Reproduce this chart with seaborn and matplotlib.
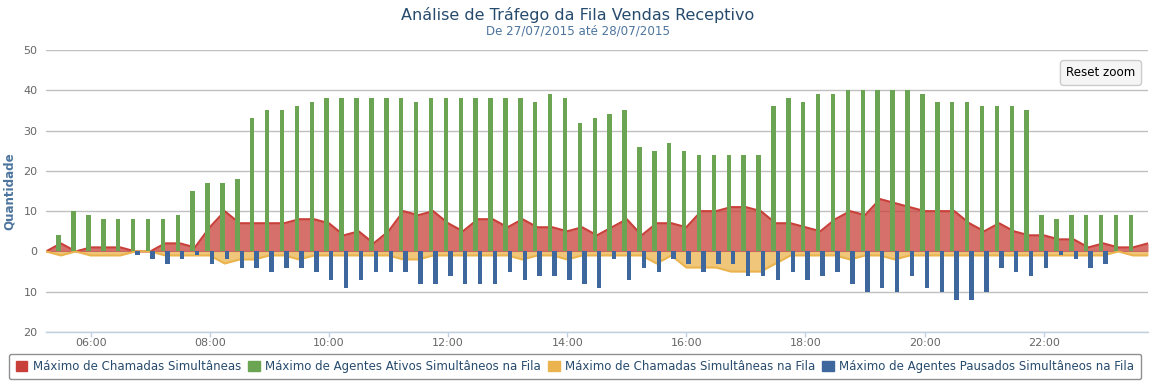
import numpy as np
import pandas as pd
import seaborn as sns
import matplotlib.pyplot as plt
from matplotlib.patches import Patch

# horarios de 15 em 15 minutos (05:15 ate 23:45)
horarios = pd.date_range('2015-07-27 05:15', '2015-07-27 23:45', freq='15min')

# maximo de chamadas simultaneas (area vermelha)
chamadas = [0, 2, 0, 1, 1, 1, 0, 0, 2, 2, 1, 6, 10, 7, 7, 7, 7, 8, 8, 7,
            4, 5, 2, 5, 10, 9, 10, 7, 5, 8, 8, 6, 8, 6, 6, 5, 6, 4, 6, 8,
            4, 7, 7, 6, 10, 10, 11, 11, 10, 7, 7, 6, 5, 8, 10, 9, 13, 12, 11, 10,
            10, 10, 7, 5, 7, 5, 4, 4, 3, 3, 1, 2, 1, 1, 2]

# maximo de agentes ativos na fila (colunas verdes)
agentes_ativos = [0, 4, 10, 9, 8, 8, 8, 8, 8, 9, 15, 17, 17, 18, 33, 35, 35, 36, 37, 38,
                  38, 38, 38, 38, 38, 37, 38, 38, 38, 38, 38, 38, 38, 37, 39, 38, 32, 33, 34, 35,
                  26, 25, 27, 25, 24, 24, 24, 24, 24, 36, 38, 37, 39, 39, 40, 40, 40, 40, 40, 39,
                  37, 37, 37, 36, 36, 36, 35, 9, 8, 9, 9, 9, 9, 9, 0]

# maximo de chamadas na fila (area amarela, para baixo)
chamadas_fila = [0, 1, 0, 1, 1, 1, 0, 0, 1, 1, 1, 1, 3, 2, 2, 1, 1, 2, 1, 1,
                 1, 1, 1, 1, 2, 2, 1, 1, 1, 1, 1, 1, 2, 1, 1, 2, 1, 1, 1, 1,
                 1, 3, 1, 4, 4, 4, 5, 5, 5, 3, 1, 1, 1, 1, 2, 1, 1, 2, 1, 1,
                 1, 1, 1, 1, 1, 1, 1, 1, 1, 1, 1, 1, 0, 1, 1]

# maximo de agentes pausados (colunas azuis, para baixo)
agentes_pausados = [0, 0, 0, 0, 0, 0, 1, 2, 3, 2, 1, 3, 2, 4, 4, 5, 4, 4, 5, 7,
                    9, 7, 5, 5, 5, 8, 8, 6, 8, 8, 8, 5, 7, 6, 6, 7, 8, 9, 2, 7,
                    4, 5, 2, 3, 5, 3, 3, 6, 6, 7, 5, 7, 6, 5, 8, 10, 9, 10, 6, 9,
                    10, 12, 12, 10, 4, 5, 6, 4, 1, 2, 4, 3, 0, 0, 0]

nomes = ['Máximo de Chamadas Simultâneas',
         'Máximo de Agentes Ativos Simultâneos na Fila',
         'Máximo de Chamadas Simultâneas na Fila',
         'Máximo de Agentes Pausados Simultâneos na Fila']
cores = ['#c9403a', '#6ba553', '#eab34d', '#3e679e']

hora = np.asarray(horarios.hour + horarios.minute / 60.0)
n = len(hora)

sns.set_theme(style='white')
plt.rcParams['font.family'] = ['DejaVu Sans']

fig = plt.figure(figsize=(11.56, 3.84), dpi=100)
ax = fig.add_axes([46 / 1156, 52 / 384, 1102 / 1156, 282 / 384])

# areas
ax.fill_between(hora, 0, chamadas, color=cores[0], alpha=0.75, lw=0, zorder=1)
sns.lineplot(x=hora, y=chamadas, color=cores[0], lw=1.5, ax=ax, zorder=1.5)
neg_fila = -np.array(chamadas_fila)
ax.fill_between(hora, 0, neg_fila, color=cores[2], alpha=0.75, lw=0, zorder=1)
sns.lineplot(x=hora, y=neg_fila, color=cores[2], lw=1.5, ax=ax, zorder=1.5)

# colunas
barras = pd.DataFrame({
    'hora': np.concatenate([hora, hora]),
    'valor': np.concatenate([agentes_ativos, -np.array(agentes_pausados)]),
    'serie': ['ativos'] * n + ['pausados'] * n,
})
sns.barplot(data=barras, x='hora', y='valor', hue='serie', native_scale=True,
            dodge=True, width=0.6, palette=[cores[1], cores[3]], saturation=1,
            errorbar=None, legend=False, ax=ax, zorder=2, linewidth=0)

ax.set_xlim(5.25, 23.75)
ax.set_ylim(-20, 50)
xt = list(range(6, 23, 2))
ax.set_xticks(xt)
ax.set_xticklabels([f'{h:02d}:00' for h in xt])
yt = list(range(-20, 51, 10))
ax.set_yticks(yt)
ax.set_yticklabels([str(abs(v)) for v in yt])

ax.set_axisbelow(True)
ax.yaxis.grid(True, color='#c0c0c0', lw=1)
ax.xaxis.grid(False)
for s in ['left', 'right', 'top']:
    ax.spines[s].set_visible(False)
ax.spines['bottom'].set_color('#c0d0e0')
ax.spines['bottom'].set_linewidth(1)
ax.tick_params(axis='x', length=3.6, width=1, color='#c0d0e0', pad=1,
               labelsize=8, labelcolor='#666666', bottom=True)
ax.tick_params(axis='y', length=0, pad=6, labelsize=8, labelcolor='#666666')

ax.set_xlabel('')
ax.set_ylabel('Quantidade', fontsize=8.6, fontweight='bold', color='#4d759e')
ax.yaxis.set_label_coords(-0.027, 0.5)

fig.text(0.5, 1 - 15 / 384, 'Análise de Tráfego da Fila Vendas Receptivo',
         ha='center', va='center', fontsize=11.5, color='#274b6d')
fig.text(0.5, 1 - 31 / 384, 'De 27/07/2015 até 28/07/2015',
         ha='center', va='center', fontsize=8.6, color='#4d759e')

fig.text(1101 / 1156, 1 - 73 / 384, 'Reset zoom', ha='center', va='center',
         fontsize=8.6, color='black',
         bbox=dict(boxstyle='round,pad=0.5,rounding_size=0.3', fc='#f5f5f5',
                   ec='#cccccc', lw=1))

handles = [Patch(facecolor=c, edgecolor=c, label=l) for c, l in zip(cores, nomes)]
leg = fig.legend(handles=handles, loc='center', bbox_to_anchor=(575 / 1156, 1 - 366.5 / 384),
                 ncol=4, frameon=True, fancybox=True, fontsize=8.5,
                 handlelength=1.0, handleheight=1.0, handletextpad=0.45,
                 columnspacing=0.6, borderpad=0.55, labelcolor='#274b6d')
leg.get_frame().set_edgecolor('#909090')
leg.get_frame().set_linewidth(1)
leg.get_frame().set_alpha(1)

fig.savefig('out.png', dpi=100)
